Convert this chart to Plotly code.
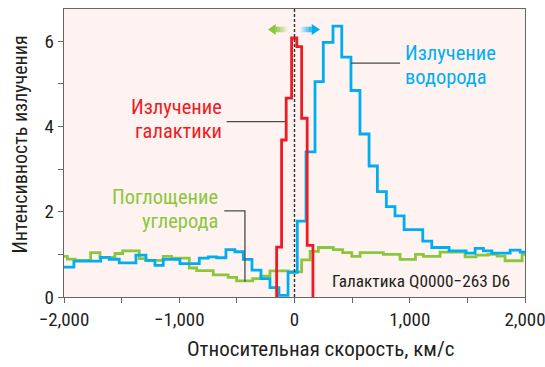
import plotly.graph_objects as go

# Step spectra: bin edges (km/s) and intensities per bin
hydrogen_edges = [-2000, -1914, -1682, -1608, -1521, -1376, -1289, -1211, -1139, -994,
                  -826, -748, -675, -595, -517, -444, -369, -291, -213, -135,
                  -56, 24, 100, 178, 250, 334, 410, 490, 568, 647,
                  719, 797, 872, 951, 1113, 1191, 1341, 1489, 1567, 1639,
                  1712, 1871, 1958, 2000]
hydrogen_vals = [0.70, 0.84, 0.93, 0.885, 0.80, 0.98, 0.86, 0.74, 0.88, 0.78,
                 0.91, 0.94, 0.92, 1.11, 1.06, 0.88, 0.63, 0.43, 0.22, 0.04,
                 0.58, 1.78, 3.40, 5.05, 5.97, 6.35, 5.62, 4.84, 3.82, 3.07,
                 2.47, 2.12, 1.90, 1.58, 1.31, 1.16, 1.08, 1.03, 1.14, 1.08,
                 1.03, 1.10, 1.05]

carbon_edges = [-2000, -1971, -1904, -1769, -1688, -1558, -1491, -1347, -1289, -1139,
                -1066, -913, -849, -705, -575, -502, -363, -291, -213, -54,
                62, 135, 207, 337, 418, 497, 569, 771, 916, 1050,
                1118, 1263, 1480, 1575, 1680, 1758, 1827, 1975, 2000]
carbon_vals = [0.95, 0.89, 0.86, 1.04, 0.93, 1.02, 1.08, 0.90, 0.86, 0.95,
               0.91, 0.68, 0.62, 0.52, 0.46, 0.38, 0.43, 0.49, 0.61, 0.59,
               0.87, 1.07, 1.16, 1.11, 1.04, 0.95, 1.04, 1.00, 0.88, 1.00,
               0.95, 1.05, 0.94, 0.98, 1.00, 0.96, 0.85, 1.00]

galaxy_edges = [-155, -112, -72, -25, 20, 62, 110, 160]
galaxy_vals = [1.17, 3.68, 4.66, 6.07, 5.87, 4.19, 1.21]

x_ticks = [-2000, -1000, 0, 1000, 2000]
x_ticktext = ["\u22122,000", "\u22121,000", "0", "1,000", "2,000"]
y_ticks = [0, 2, 4, 6]

RED = "#ED1C24"
BLUE = "#00AEEF"
GREEN = "#8CC63F"
GREY = "#4A4A4A"
INK = "#231F20"
FONT = "Liberation Sans Narrow, Arial Narrow, Roboto Condensed, sans-serif"


def steps(edges, vals):
    return list(edges), list(vals) + [vals[-1]]


def closed_steps(edges, vals):
    return [edges[0]] + list(edges), [0] + list(vals) + [0]


fig = go.Figure()
for (xs, ys), color in [
    (steps(carbon_edges, carbon_vals), GREEN),
    (steps(hydrogen_edges, hydrogen_vals), BLUE),
    (closed_steps(galaxy_edges, galaxy_vals), RED),
]:
    fig.add_trace(go.Scatter(x=xs, y=ys, mode="lines", line_shape="hv",
                             line=dict(color=color, width=2.8), hoverinfo="skip"))

shapes = []
# zero-velocity marker
shapes.append(dict(type="line", xref="x", yref="y", x0=0, x1=0, y0=0, y1=6.75,
                   line=dict(color="#333333", width=1.4, dash="3px,2px"), layer="above"))
# leader lines
leader = dict(color=GREY, width=1.3)
shapes.append(dict(type="line", xref="x", yref="y", x0=-589, x1=-80, y0=4.11, y1=4.11, line=leader))
shapes.append(dict(type="line", xref="x", yref="y", x0=490, x1=916, y0=5.48, y1=5.48, line=leader))
shapes.append(dict(type="path", xref="x", yref="y",
                   path="M -609,2.02 L -430,2.02 L -430,0.36", line=leader))


def arrow(tip, base, tail, yc, color):
    out = [dict(type="path", xref="x", yref="y",
                path=f"M {tip},{yc} L {base},{yc + 0.13} L {base},{yc - 0.13} Z",
                fillcolor=color, line=dict(width=0))]
    n = 8
    for i in range(n):
        a = base + (tail - base) * i / n
        b = base + (tail - base) * (i + 1) / n
        out.append(dict(type="rect", xref="x", yref="y", x0=a, x1=b,
                        y0=yc - 0.065, y1=yc + 0.065, fillcolor=color,
                        opacity=max(0.05, 1 - (i + 0.5) / n), line=dict(width=0)))
    return out


shapes += arrow(-230, -163, -56, 6.27, GREEN)
shapes += arrow(221, 149, 48, 6.27, BLUE)

annotations = []


def label(lines, x, ys, anchor, color, size):
    for text, y in zip(lines, ys):
        annotations.append(dict(x=x, y=y, xref="x", yref="y", text=text, showarrow=False,
                                xanchor=anchor, yanchor="middle",
                                font=dict(family=FONT, size=size, color=color)))


label(["Излучение", "галактики"], -612, [4.45, 3.88], "right", RED, 20.5)
label(["Излучение", "водорода"], 942, [5.71, 5.15], "left", BLUE, 20.5)
label(["Поглощение", "углерода"], -647, [2.34, 1.77], "right", GREEN, 20.5)
label(["Галактика Q0000\u2212263 D6"], 305, [0.37], "left", INK, 17.3)

annotations.append(dict(x=303 / 545, y=-0.18, xref="paper", yref="paper",
                        text="Относительная скорость, км/с", showarrow=False,
                        xanchor="center", yanchor="middle",
                        font=dict(family=FONT, size=21, color=INK)))
annotations.append(dict(x=-0.095, y=0.53, xref="paper", yref="paper",
                        text="Интенсивность излучения", showarrow=False, textangle=-90,
                        xanchor="center", yanchor="middle",
                        font=dict(family=FONT, size=20, color=INK)))

axis_common = dict(showline=True, linecolor="#666666", linewidth=1.4, mirror=True,
                   ticks="outside", ticklen=5, tickcolor="#666666", tickwidth=1.2,
                   showgrid=False, zeroline=False, automargin=False,
                   ticklabeloverflow="allow",
                   tickfont=dict(family=FONT, size=19, color=INK))

fig.update_layout(
    width=545, height=367,
    margin=dict(l=64, r=20, t=9, b=70),
    paper_bgcolor="white", plot_bgcolor="#FEF3F0",
    showlegend=False,
    shapes=shapes, annotations=annotations,
    xaxis=dict(range=[-2000, 2000], tickvals=x_ticks, ticktext=x_ticktext,
               minor=dict(tickvals=[-1500, -500, 500, 1500], ticks="outside", ticklen=5,
                          tickcolor="#666666", tickwidth=1.2),
               **axis_common),
    yaxis=dict(range=[0, 6.75], tickvals=y_ticks,
               minor=dict(tickvals=[1, 3, 5], ticks="outside", ticklen=5,
                          tickcolor="#666666", tickwidth=1.2),
               **axis_common),
)

fig.write_html("out.html")
